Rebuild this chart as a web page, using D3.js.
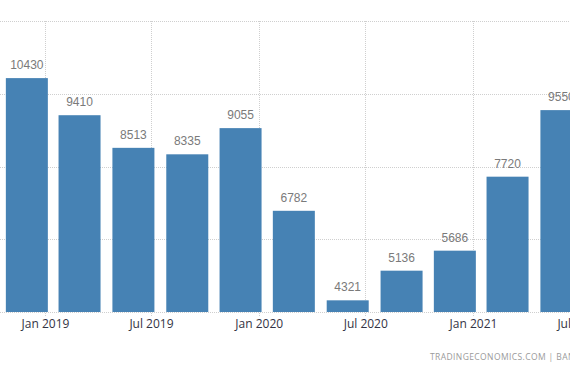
<!DOCTYPE html>
<html>
<head>
<meta charset="utf-8">
<script src="https://cdn.jsdelivr.net/npm/d3@7"></script>
<style>
  body { margin: 0; background: #fff; }
  svg { display: block; }
</style>
</head>
<body>
<div id="chart"></div>
<script>
// quarterly values, bar dated on the first day of the quarter's last month
const dates = ["2018-12-01", "2019-03-01", "2019-06-01", "2019-09-01", "2019-12-01",
               "2020-03-01", "2020-06-01", "2020-09-01", "2020-12-01", "2021-03-01", "2021-06-01"]
const values = [10430, 9410, 8513, 8335, 9055, 6782, 4321, 5136, 5686, 7720, 9550]
const tickDates = ["2019-01-01", "2019-07-01", "2020-01-01", "2020-07-01", "2021-01-01", "2021-07-01"]
const yTicks = [4000, 6000, 8000, 10000, 12000]

const width = 570
const height = 374
const parse = d3.utcParse("%Y-%m-%d")
const data = dates.map((d, i) => ({date: parse(d), value: values[i]}))

const x = d3.scaleUtc()
    .domain([parse("2019-01-01"), parse("2021-01-01")])
    .range([45, 473])

const y = d3.scaleLinear()
    .domain([4000, 12000])
    .range([312, 21])

const barW = 42

const svg = d3.select("#chart").append("svg")
    .attr("width", width)
    .attr("height", height)

// horizontal grid
svg.append("g")
    .selectAll("line")
    .data(yTicks)
    .join("line")
        .attr("x1", 0)
        .attr("x2", width)
        .attr("y1", d => Math.round(y(d)) + 0.5)
        .attr("y2", d => Math.round(y(d)) + 0.5)
        .attr("stroke", "#cfcfcf")
        .attr("stroke-dasharray", "1,1")

// vertical grid + ticks
svg.append("g")
    .selectAll("line")
    .data(tickDates.map(parse))
    .join("line")
        .attr("x1", d => Math.round(x(d)) + 0.5)
        .attr("x2", d => Math.round(x(d)) + 0.5)
        .attr("y1", y(12000))
        .attr("y2", y(4000) + 5)
        .attr("stroke", "#cfcfcf")
        .attr("stroke-dasharray", "1,1")

// bars
svg.append("g")
    .selectAll("rect")
    .data(data)
    .join("rect")
        .attr("x", d => x(d.date) - barW / 2)
        .attr("y", d => y(d.value))
        .attr("width", barW)
        .attr("height", d => y(4000) - y(d.value))
        .attr("fill", "#4682b4")

// value labels
svg.append("g")
    .selectAll("text")
    .data(data)
    .join("text")
        .attr("x", d => x(d.date))
        .attr("y", d => y(d.value) - 9)
        .attr("text-anchor", "middle")
        .attr("font-family", "Arial, 'Liberation Sans', sans-serif")
        .attr("font-size", 12)
        .attr("fill", "#7a7a7a")
        .text(d => d.value)

// x tick labels
svg.append("g")
    .selectAll("text")
    .data(tickDates.map(parse))
    .join("text")
        .attr("x", d => x(d) + 0.5)
        .attr("y", 328)
        .attr("text-anchor", "middle")
        .attr("font-family", "'Open Sans', Arial, sans-serif")
        .attr("font-size", 12)
        .attr("fill", "#333344")
        .text(d3.utcFormat("%b %Y"))

// watermark
svg.append("text")
    .attr("x", 430)
    .attr("y", 360)
    .attr("font-family", "'Open Sans', Arial, sans-serif")
    .attr("font-size", 8.5)
    .attr("letter-spacing", 0.4)
    .attr("fill", "#9a9a9a")
    .text("TRADINGECONOMICS.COM  |  BANK OF JAPAN")
</script>
</body>
</html>
